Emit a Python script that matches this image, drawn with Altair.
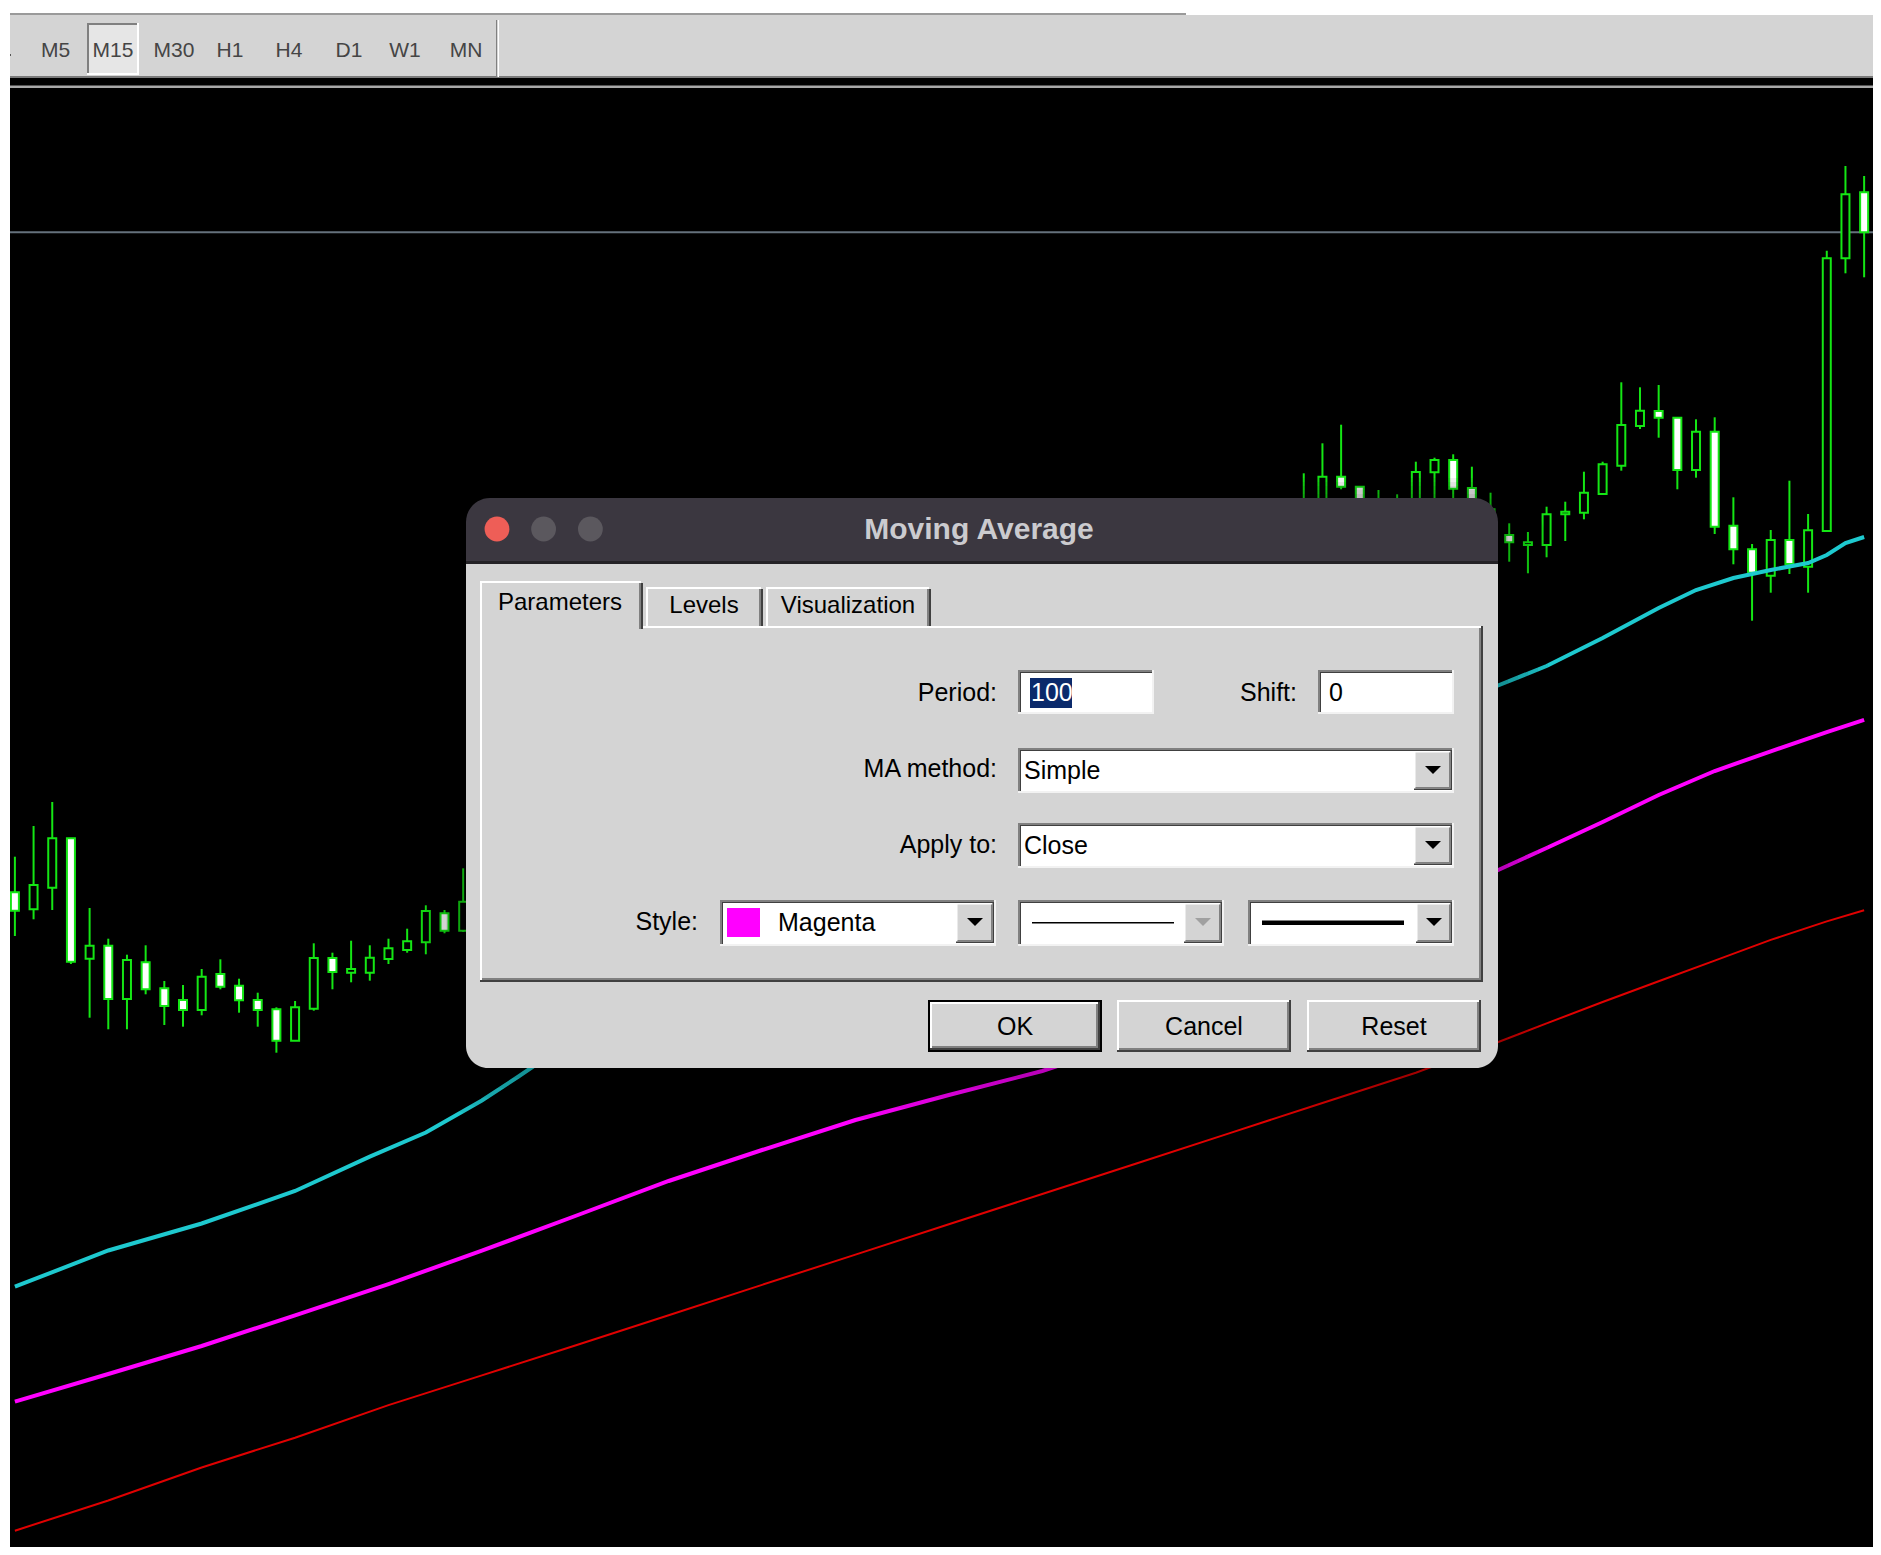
import altair as alt
import pandas as pd

# ------------------------------------------------------------------
# DATA  (prices in points)
# ------------------------------------------------------------------
bar_index = list(range(0, 25)) + list(range(69, 100))
bar_open = [662.7, 645.7, 667.3, 716.7, 596.3, 609.3, 556.0, 592.7, 566.7, 555.0,
            545.0, 581.0, 569.3, 555.0, 545.7, 514.3, 546.3, 597.0, 582.3, 582.3,
            596.0, 605.0, 612.7, 641.7, 624.3,
            1038.0, 1050.0, 1078.3, 1068.3, 1045.0, 1040.0, 1050.0, 1082.7, 1095.0, 1067.0,
            1016.7, 1020.0, 1010.0, 1010.0, 1040.7, 1042.3, 1061.0, 1089.3, 1129.0, 1144.0,
            1137.3, 1085.0, 1123.3, 1029.3, 1005.7, 979.3, 1015.0, 988.3, 1024.0, 1296.7,
            1362.7]
bar_high = [698.3, 729.0, 753.0, 716.7, 647.0, 616.3, 600.3, 609.7, 574.0, 570.0,
            586.0, 595.7, 576.3, 562.3, 547.7, 554.0, 611.7, 602.3, 614.3, 609.7,
            616.3, 626.3, 649.7, 645.0, 686.7,
            1081.7, 1111.7, 1130.3, 1069.0, 1065.0, 1060.7, 1093.3, 1097.3, 1100.7, 1088.3,
            1062.3, 1031.7, 1023.0, 1048.3, 1053.3, 1083.3, 1093.3, 1172.7, 1167.7, 1170.0,
            1137.3, 1135.7, 1137.7, 1057.7, 1011.0, 1025.0, 1074.3, 1041.0, 1304.3, 1389.0,
            1379.0]
bar_low = [619.0, 635.7, 645.0, 591.0, 537.3, 525.7, 525.7, 560.7, 530.0, 528.3,
           539.7, 565.7, 542.3, 528.3, 502.3, 514.3, 544.3, 565.7, 572.7, 574.3,
           591.0, 602.3, 600.7, 621.7, 623.0,
           1030.0, 1040.0, 1065.7, 1035.0, 1030.0, 1030.0, 1040.0, 1055.0, 1052.0, 1035.0,
           1015.0, 993.3, 981.7, 997.7, 1014.0, 1035.7, 1061.0, 1084.3, 1126.0, 1117.3,
           1065.7, 1077.3, 1021.0, 990.7, 934.3, 962.3, 981.0, 962.3, 1024.0, 1281.7,
           1277.7]
bar_close = [644.3, 670.0, 716.7, 593.3, 609.3, 556.0, 595.0, 565.7, 549.0, 545.0,
             578.3, 568.3, 554.7, 545.0, 514.3, 547.7, 597.0, 583.0, 586.0, 597.3,
             606.7, 613.7, 644.0, 624.3, 653.3,
             1052.0, 1078.3, 1068.3, 1045.0, 1055.0, 1050.0, 1083.0, 1095.0, 1066.3, 1045.0,
             1045.7, 1012.7, 1012.7, 1040.7, 1043.3, 1062.3, 1090.7, 1130.0, 1144.3, 1137.3,
             1085.0, 1123.3, 1028.3, 1005.7, 982.3, 1015.0, 991.0, 1024.7, 1296.7, 1360.7,
             1322.7]

ma_fast_index = [0, 5, 10, 15, 19, 22, 25, 27, 28, 79, 82, 85, 88, 90, 92, 94, 96, 97, 98, 99]
ma_fast = [268.3, 304.5, 331.5, 364.0, 398.3, 422.5, 454.5, 479.0, 491.7, 866.5,
           889.0, 917.0, 947.0, 965.0, 977.0, 985.0, 992.0, 1000.0, 1012.0, 1018.0]

ma_mid_index = [0, 5, 10, 15, 20, 25, 30, 35, 40, 45, 50, 55, 56, 79, 82, 85, 88, 91, 94, 97, 99]
ma_mid = [153.3, 181.0, 209.0, 239.6, 270.9, 304.3, 339.0, 374.0, 405.0, 435.0, 460.0,
          484.0, 490.0, 681.5, 707.0, 733.0, 760.0, 784.0, 803.7, 822.8, 835.2]

ma_slow_index = [0, 5, 10, 15, 20, 25, 30, 35, 40, 45, 50, 55, 60, 65, 70, 75, 79, 82,
                 85, 88, 91, 94, 97, 99]
ma_slow = [24.3, 54.5, 87.5, 117.3, 149.9, 179.6, 209.5, 239.8, 270.1, 300.4, 330.7,
           361.0, 391.3, 421.6, 452.0, 482.3, 510.0, 531.6, 553.0, 573.7, 594.4, 615.1,
           633.6, 644.8]

timeframes = ["M5", "M15", "M30", "H1", "H4", "D1", "W1", "MN"]
dialog_title = "Moving Average"
tab_names = ["Parameters", "Levels", "Visualization"]
period_value = "100"
shift_value = "0"
ma_method = "Simple"
apply_to = "Close"
style_color = "Magenta"
button_names = ["OK", "Cancel", "Reset"]

# ------------------------------------------------------------------
# LAYOUT / STYLE
# ------------------------------------------------------------------
W, H = 1865, 1539
OFF = 8
FONT = "Liberation Sans"
GREEN = "#14e614"

xs = alt.Scale(domain=[-0.1012, 99.207], nice=False, zero=False)
ys = alt.Scale(domain=[8, 1547], nice=False, zero=False)

one = pd.DataFrame({"k": [0]})


def box(layers, x1, y1, x2, y2, fill, **kw):
    layers.append(alt.Chart(one).mark_rect(fill=fill, **kw).encode(
        x=alt.value(x1 - OFF), x2=alt.value(x2 - OFF),
        y=alt.value(y1 - OFF), y2=alt.value(y2 - OFF)))


def text(layers, x, y, s, size=25, color="#000000", align="left", weight="normal"):
    layers.append(alt.Chart(one).mark_text(
        text=s, align=align, baseline="middle", fontSize=size, color=color,
        fontWeight=weight, font=FONT).encode(x=alt.value(x - OFF), y=alt.value(y - OFF)))


def circle(layers, x, y, r, color):
    layers.append(alt.Chart(one).mark_circle(size=3.1416 * r * r, color=color, opacity=1).encode(
        x=alt.value(x - OFF), y=alt.value(y - OFF)))


def arrow(layers, x, y, color="#000000"):
    layers.append(alt.Chart(one).mark_point(
        shape="M-1,-0.5L1,-0.5L0,0.5Z", size=256, filled=True, color=color,
        opacity=1, strokeWidth=0).encode(x=alt.value(x - OFF), y=alt.value(y - OFF)))


def sunken(layers, x1, y1, x2, y2):
    box(layers, x1, y1, x2, y2, "#ffffff")
    box(layers, x1, y1, x2, y1 + 2, "#808080")
    box(layers, x1, y1, x1 + 2, y2, "#808080")
    box(layers, x1 + 2, y1 + 2, x2 - 2, y1 + 3, "#404040")
    box(layers, x1 + 2, y1 + 2, x1 + 3, y2 - 2, "#404040")
    box(layers, x1, y2 - 2, x2, y2, "#f2f2f2")
    box(layers, x2 - 2, y1, x2, y2, "#f2f2f2")


def raised(layers, x1, y1, x2, y2, w=2):
    box(layers, x1, y1, x2, y2, "#d4d4d4")
    box(layers, x1, y1, x2, y1 + w, "#ffffff")
    box(layers, x1, y1, x1 + w, y2, "#ffffff")
    box(layers, x1, y2 - w, x2, y2, "#404040")
    box(layers, x2 - w, y1, x2, y2, "#404040")
    box(layers, x1 + w, y2 - 2 * w, x2 - w, y2 - w, "#808080")
    box(layers, x2 - 2 * w, y1 + w, x2 - w, y2 - w, "#808080")


# ---------------- background: terminal toolbar + chart area ----------------
bg = []
box(bg, 8, 13, 1186, 15, "#9a9a9a")
box(bg, 10, 15, 1881, 77, "#d4d4d4")
box(bg, 10, 76, 1881, 1555, "#000000")
box(bg, 10, 76, 1881, 78, "#7a7a7a")
box(bg, 10, 85.5, 1881, 88, "#a8a8a8")
box(bg, 496, 20, 497.5, 77, "#808080")
box(bg, 497.5, 20, 499, 77, "#ffffff")
# pressed M15 button
box(bg, 87, 23, 139, 75, "#e6e6e6")
box(bg, 87, 23, 139, 25, "#808080")
box(bg, 87, 23, 89, 75, "#808080")
box(bg, 87, 73, 139, 75, "#ffffff")
box(bg, 137, 23, 139, 75, "#ffffff")
box(bg, 9, 54, 11, 56, "#555555")
tf_x = [55.5, 113, 174, 230, 289, 349, 405, 466]
for name, xp in zip(timeframes, tf_x):
    text(bg, xp, 51, name, size=21, color="#454545", align="center")

# ---------------- price data ----------------
candles = pd.DataFrame({"i": bar_index, "open": bar_open, "high": bar_high,
                        "low": bar_low, "close": bar_close})
candles["top"] = candles[["open", "close"]].max(axis=1)
candles["bot"] = candles[["open", "close"]].min(axis=1)
candles["kind"] = ["bear" if c < o else "bull" for o, c in zip(bar_open, bar_close)]

X = alt.X("i:Q", scale=xs, axis=None)

bid = alt.Chart(pd.DataFrame({"bid": [bar_close[-1]]})).mark_rule(
    color="#65717c", strokeWidth=2).encode(
    y=alt.Y("bid:Q", scale=ys, axis=None), x=alt.value(2), x2=alt.value(1865))

wicks = alt.Chart(candles).mark_rule(color=GREEN, strokeWidth=2).encode(
    x=X, y=alt.Y("low:Q", scale=ys, axis=None), y2="high:Q")

bodies = alt.Chart(candles).mark_bar(size=8, stroke=GREEN, strokeWidth=2).encode(
    x=X, y=alt.Y("bot:Q", scale=ys, axis=None), y2="top:Q",
    fill=alt.Fill("kind:N", scale=alt.Scale(domain=["bull", "bear"],
                                            range=["#000000", "#ffffff"]), legend=None))


def ma_line(idx, vals, color, width):
    df = pd.DataFrame({"i": idx, "v": vals})
    return alt.Chart(df).mark_line(color=color, strokeWidth=width).encode(
        x=X, y=alt.Y("v:Q", scale=ys, axis=None))


red = ma_line(ma_slow_index, ma_slow, "#e00000", 2)
mag = ma_line(ma_mid_index, ma_mid, "#ff00ff", 4)
cyan = ma_line(ma_fast_index, ma_fast, "#1ec9cf", 4)

# ---------------- dialog ----------------
ui = []
DX1, DY1, DX2, DY2 = 466, 498, 1498, 1068
for e in (10, 20, 30, 40, 50):
    box(ui, DX1 - e, DY1 - e * 0.4, DX2 + e, DY2 + e, "#000000",
        opacity=0.06, cornerRadius=24 + e)
box(ui, DX1, DY1, DX2, 564, "#3b3740", cornerRadiusTopLeft=24, cornerRadiusTopRight=24)
box(ui, DX1, 563, DX2, DY2, "#d4d4d4", cornerRadiusBottomLeft=22, cornerRadiusBottomRight=22)
box(ui, DX1, 561, DX2, 564, "#242226")
circle(ui, 497, 529, 14, "#ee5e57")
circle(ui, 543.6, 529, 14, "#5b585e")
circle(ui, 590.4, 529, 14, "#5b585e")
text(ui, 979, 530, dialog_title, size=30, color="#cbcbcf", align="center", weight="bold")

# tab panel
box(ui, 480, 626, 1483, 982, "#d4d4d4")
box(ui, 480, 626, 1483, 628, "#ffffff")
box(ui, 480, 626, 482, 982, "#ffffff")
box(ui, 1481, 626, 1483, 982, "#404040")
box(ui, 1479, 628, 1481, 980, "#808080")
box(ui, 480, 980, 1483, 982, "#404040")
box(ui, 482, 978, 1481, 980, "#808080")
# tabs
tab_boxes = [(480, 581, 643), (646, 587, 763), (766, 587, 931)]
tab_text_x = [560, 704, 848]
for k, ((tx1, ty1, tx2), name, cx) in enumerate(zip(tab_boxes, tab_names, tab_text_x)):
    ty2 = 629 if k == 0 else 626
    box(ui, tx1, ty1, tx2, ty2, "#d4d4d4")
    box(ui, tx1, ty1, tx2 - 2, ty1 + 2, "#ffffff")
    box(ui, tx1, ty1, tx1 + 2, ty2, "#ffffff")
    box(ui, tx2 - 2, ty1 + 2, tx2, ty2, "#404040")
    box(ui, tx2 - 4, ty1 + 2, tx2 - 2, ty2, "#808080")
    text(ui, cx, 603 if k == 0 else 606, name, size=24, align="center")

# Period / Shift
text(ui, 997, 693, "Period:", align="right")
sunken(ui, 1018, 670, 1154, 714)
box(ui, 1030, 678, 1072, 708, "#0b2a6b")
text(ui, 1031, 693, period_value, color="#ffffff")
text(ui, 1297, 693, "Shift:", align="right")
sunken(ui, 1318, 670, 1454, 714)
text(ui, 1329, 693, shift_value)

# MA method
text(ui, 997, 769, "MA method:", align="right")
sunken(ui, 1018, 748, 1454, 793)
text(ui, 1024, 771, ma_method)
raised(ui, 1414, 751, 1452, 790, w=1.5)
arrow(ui, 1433, 770)

# Apply to
text(ui, 997, 845, "Apply to:", align="right")
sunken(ui, 1018, 823, 1454, 868)
text(ui, 1024, 846, apply_to)
raised(ui, 1414, 826, 1452, 865, w=1.5)
arrow(ui, 1433, 845)

# Style
text(ui, 698, 922, "Style:", align="right")
sunken(ui, 720, 900, 996, 946)
box(ui, 727, 908, 760, 937, "#ff00ff")
text(ui, 778, 923, style_color)
raised(ui, 956, 903, 994, 943, w=1.5)
arrow(ui, 975, 922)

sunken(ui, 1018, 900, 1224, 946)
box(ui, 1032, 922, 1174, 923.5, "#000000")
raised(ui, 1184, 903, 1222, 943, w=1.5)
arrow(ui, 1203, 922, color="#a0a0a0")

sunken(ui, 1248, 900, 1454, 946)
box(ui, 1262, 920.5, 1404, 925, "#000000")
raised(ui, 1416, 903, 1452, 943, w=1.5)
arrow(ui, 1434, 922)

# buttons
box(ui, 928, 1000, 1102, 1052, "#000000")
raised(ui, 930, 1002, 1100, 1050)
raised(ui, 1117, 1000, 1291, 1052)
raised(ui, 1307, 1000, 1481, 1052)
for name, cx in zip(button_names, [1015, 1204, 1394]):
    text(ui, cx, 1027, name, align="center")

# left white strip of the screenshot
box(ui, 8, 8, 10, 1555, "#ffffff")

chart = alt.layer(*bg, bid, wicks, bodies, red, mag, cyan, *ui).properties(
    width=W, height=H, padding=0,
    autosize=alt.AutoSizeParams(type="none"),
    background="#ffffff",
).configure_view(strokeWidth=0)

chart.save("out.html", embed_options={"renderer": "svg", "actions": False})
